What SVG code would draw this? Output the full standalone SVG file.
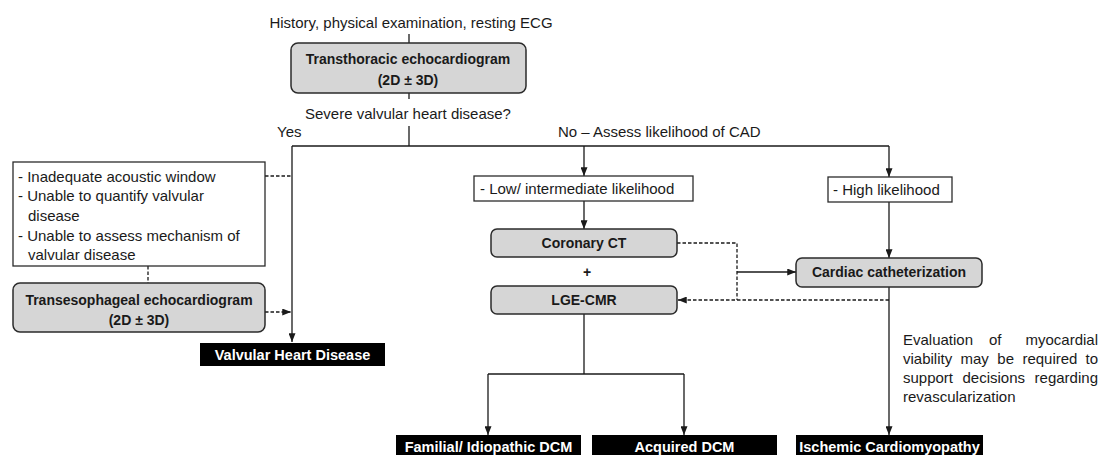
<svg xmlns="http://www.w3.org/2000/svg" width="1101" height="455" viewBox="0 0 1101 455">
<style>
text{font-family:"Liberation Sans",Arial,sans-serif;font-size:15px;fill:#1a1a1a}
.b{font-weight:bold;font-size:14px;text-anchor:middle}
.w{font-weight:bold;font-size:14.5px;fill:#fff;text-anchor:middle}
.c{text-anchor:middle}
.gray{fill:#d6d6d6;stroke:#2b2b2b;stroke-width:1.5}
.white{fill:#fff;stroke:#2b2b2b;stroke-width:1.3}
.black{fill:#000}
.ln{fill:none;stroke:#1a1a1a;stroke-width:1.3}
.ds{fill:none;stroke:#1a1a1a;stroke-width:1.3;stroke-dasharray:3.5 2}
</style>
<defs>
<marker id="ah" viewBox="0 0 10 8" markerWidth="9" markerHeight="7" refX="10" refY="4" orient="auto" markerUnits="userSpaceOnUse">
<path d="M0,0 L10,4 L0,8 z" fill="#1a1a1a"/>
</marker>
</defs>
<rect width="1101" height="455" fill="#fff"/>

<g id="connectors">
<line class="ln" x1="409" y1="34" x2="409" y2="43"/>
<line class="ln" x1="409" y1="93" x2="409" y2="99"/>
<line class="ln" x1="409" y1="126" x2="409" y2="146"/>
<polyline class="ln" points="292,146 889,146"/>
<line class="ln" x1="292" y1="146" x2="292" y2="342" marker-end="url(#ah)"/>
<line class="ln" x1="584" y1="146" x2="584" y2="176" marker-end="url(#ah)"/>
<line class="ln" x1="889" y1="146" x2="889" y2="177" marker-end="url(#ah)"/>
<line class="ds" x1="265" y1="176" x2="292" y2="176"/>
<line class="ds" x1="148" y1="266" x2="148" y2="283"/>
<line class="ds" x1="265" y1="312" x2="291" y2="312" marker-end="url(#ah)"/>
<line class="ln" x1="584" y1="201" x2="584" y2="229" marker-end="url(#ah)"/>
<line class="ln" x1="889" y1="202" x2="889" y2="258" marker-end="url(#ah)"/>
<polyline class="ds" points="677,243 737,243 737,300"/>
<line class="ln" x1="737" y1="272" x2="796" y2="272" marker-end="url(#ah)"/>
<line class="ds" x1="889" y1="300" x2="678" y2="300" marker-end="url(#ah)"/>
<line class="ln" x1="889" y1="287" x2="889" y2="435" marker-end="url(#ah)"/>
<polyline class="ln" points="584,314 584,374"/>
<polyline class="ln" points="488,374 684,374"/>
<line class="ln" x1="488" y1="374" x2="488" y2="435" marker-end="url(#ah)"/>
<line class="ln" x1="684" y1="374" x2="684" y2="435" marker-end="url(#ah)"/>
</g>

<g id="start">
<text class="c" x="411" y="28">History, physical examination, resting ECG</text>
</g>
<g id="tte">
<rect class="gray" x="291" y="43" width="235" height="50" rx="7"/>
<text class="b" x="408" y="64">Transthoracic echocardiogram</text>
<text class="b" x="408" y="85">(2D ± 3D)</text>
</g>
<g id="question">
<text class="c" x="408" y="119">Severe valvular heart disease?</text>
</g>
<g id="label-yes"><text x="277" y="137">Yes</text></g>
<g id="label-no"><text x="558" y="137">No – Assess likelihood of CAD</text></g>

<g id="limits">
<rect class="white" x="13" y="162" width="252" height="104"/>
<text x="18" y="182">-  Inadequate acoustic window</text>
<text x="18" y="201">-  Unable to quantify valvular</text>
<text x="28" y="221">disease</text>
<text x="18" y="241">-  Unable to assess mechanism of</text>
<text x="28" y="260">valvular disease</text>
</g>
<g id="tee">
<rect class="gray" x="13" y="283" width="252" height="49" rx="7"/>
<text class="b" x="139" y="305">Transesophageal echocardiogram</text>
<text class="b" x="139" y="325">(2D ± 3D)</text>
</g>
<g id="vhd">
<rect class="black" x="200" y="343" width="185" height="23"/>
<text class="w" x="292.5" y="360">Valvular Heart Disease</text>
</g>

<g id="low">
<rect class="white" x="474" y="176" width="219" height="25"/>
<text x="480" y="194">-  Low/ intermediate likelihood</text>
</g>
<g id="high">
<rect class="white" x="828" y="177" width="124" height="25"/>
<text x="833" y="195">-  High likelihood</text>
</g>
<g id="cct">
<rect class="gray" x="491" y="229" width="186" height="28" rx="6"/>
<text class="b" x="584" y="248">Coronary CT</text>
</g>
<g id="plus"><text class="b" x="587" y="277">+</text></g>
<g id="lge">
<rect class="gray" x="491" y="286" width="186" height="28" rx="6"/>
<text class="b" x="584" y="305">LGE-CMR</text>
</g>
<g id="cath">
<rect class="gray" x="796" y="258" width="186" height="29" rx="6"/>
<text class="b" x="889" y="277">Cardiac catheterization</text>
</g>
<g id="note">
<text x="903" y="345"><tspan x="903">Evaluation</tspan><tspan x="989">of</tspan><tspan x="1025.5">myocardial</tspan></text>
<text x="903" y="364"><tspan x="903">viability</tspan><tspan x="960.5">may</tspan><tspan x="997.3">be</tspan><tspan x="1022.4">required</tspan><tspan x="1085.5">to</tspan></text>
<text x="903" y="383"><tspan x="903">support</tspan><tspan x="962.5">decisions</tspan><tspan x="1034.6">regarding</tspan></text>
<text x="903" y="402">revascularization</text>
</g>
<g id="familial">
<rect class="black" x="396" y="435" width="185" height="25"/>
<text class="w" x="488.5" y="452">Familial/ Idiopathic DCM</text>
</g>
<g id="acquired">
<rect class="black" x="592" y="435" width="185" height="25"/>
<text class="w" x="684.5" y="452">Acquired DCM</text>
</g>
<g id="ischemic">
<rect class="black" x="796" y="435" width="187" height="25"/>
<text class="w" x="889.5" y="452">Ischemic Cardiomyopathy</text>
</g>
</svg>
